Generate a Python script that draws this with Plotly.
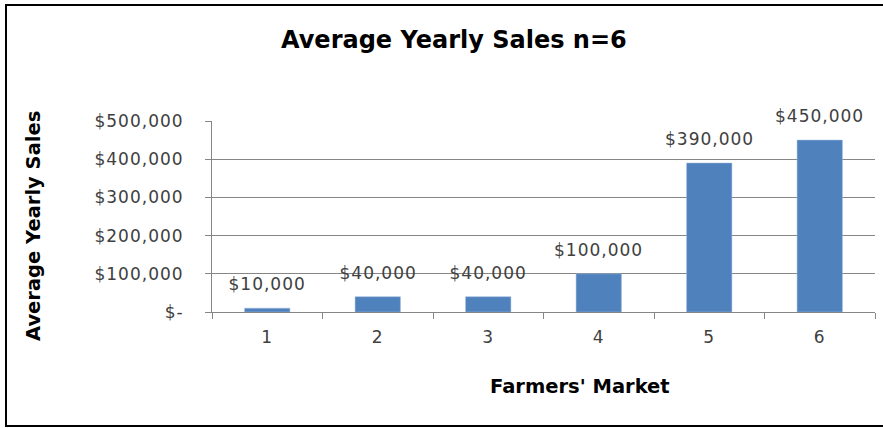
import plotly.graph_objects as go

markets = ["1", "2", "3", "4", "5", "6"]
sales = [10000, 40000, 40000, 100000, 390000, 450000]
sales_labels = ["$10,000", "$40,000", "$40,000", "$100,000", "$390,000", "$450,000"]
y_tickvals = [0, 100000, 200000, 300000, 400000, 500000]
y_ticktext = ["$-", "$100,000", "$200,000", "$300,000", "$400,000", "$500,000"]

W, H = 883, 428
L, R, T, B = 212, 8, 121, 116
pw, ph = W - L - R, H - T - B

def px(xp):
    return (xp - L) / pw

def py(yp):
    return (H - B - yp) / ph

num_font = dict(family="DejaVu Sans", size=17, color="#404040")

fig = go.Figure(go.Bar(
    x=markets, y=sales,
    marker=dict(color="#4F81BD", line=dict(color="#9DB9DC", width=0.5)),
    cliponaxis=False, hoverinfo="skip",
))

# value labels placed at each bar's category index and value, in data coordinates
label_annotations = [
    dict(text=lab, x=i, y=v, xref="x", yref="y", showarrow=False,
         xanchor="center", yanchor="middle", yshift=24, font=num_font)
    for i, (v, lab) in enumerate(zip(sales, sales_labels))
]

fig.update_layout(
    width=W, height=H,
    margin=dict(l=L, r=R, t=T, b=B),
    paper_bgcolor="white", plot_bgcolor="white",
    bargap=0.59, showlegend=False,
    xaxis=dict(
        type="category", categoryarray=markets, categoryorder="array",
        range=[-0.5, len(markets) - 0.5],
        showgrid=False, showline=True, linecolor="#868686", linewidth=1,
        ticks="outside", tickson="boundaries", ticklen=6, tickcolor="#868686",
        tickfont=num_font, ticklabelstandoff=10,
    ),
    yaxis=dict(
        range=[0, 500000], tickvals=y_tickvals, ticktext=y_ticktext,
        showgrid=True, gridcolor="#868686", gridwidth=1,
        showline=True, linecolor="#868686", linewidth=1,
        ticks="outside", ticklen=6, tickcolor="#868686",
        tickfont=num_font, ticklabelstandoff=18, zeroline=False,
    ),
    annotations=[
        dict(text="<b>Average Yearly Sales n=6</b>", x=px(454), y=py(40), xref="paper", yref="paper",
             showarrow=False, font=dict(family="DejaVu Sans", size=24, color="black"),
             xanchor="center", yanchor="middle"),
        dict(text="<b>Average Yearly Sales</b>", x=px(33), y=py(226), xref="paper", yref="paper",
             showarrow=False, textangle=-90, font=dict(family="DejaVu Sans", size=19.5, color="black"),
             xanchor="center", yanchor="middle"),
        dict(text="<b>Farmers' Market</b>", x=px(580), y=py(386), xref="paper", yref="paper",
             showarrow=False, font=dict(family="DejaVu Sans", size=19.5, color="black"),
             xanchor="center", yanchor="middle"),
    ] + label_annotations,
    shapes=[
        dict(type="rect", xref="paper", yref="paper",
             x0=px(6), x1=px(886), y0=py(426), y1=py(5),
             line=dict(color="black", width=2), fillcolor="rgba(0,0,0,0)", layer="above"),
    ],
)

post = """
document.body.style.margin = '0';
document.querySelectorAll('.ytick text, .xtick text, .annotation-text').forEach(function(t){
  if (t.closest('.xtick') || t.closest('.ytick') || (t.textContent || '').charAt(0) === '$') {
    t.style.letterSpacing = '1px';
  }
});
"""
fig.write_html("out.html", post_script=post, config={"displayModeBar": False})
